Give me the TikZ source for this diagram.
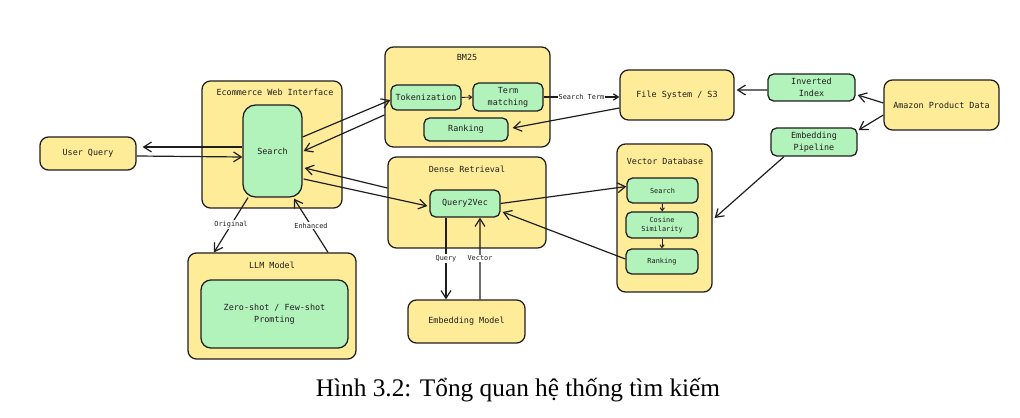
\documentclass[tikz,border=0pt]{standalone}
\usepackage{fontspec}
\setmainfont{Liberation Serif}
\newfontfamily\diafont{DejaVu Sans Mono}
\usetikzlibrary{arrows.meta,calc}
\definecolor{boxyellow}{HTML}{FFEC99}
\definecolor{boxgreen}{HTML}{B2F2BB}
\definecolor{ink}{HTML}{1E1E1E}
\begin{document}
\begin{tikzpicture}[x=0.025cm, y=-0.025cm,
    boxsize/.style 2 args={minimum width=#1*0.025cm, minimum height=#2*0.025cm},
    outer/.style={draw=ink, fill=boxyellow, line width=0.9pt, rounded corners=6pt, inner sep=0pt, align=center},
    inner/.style={draw=ink, fill=boxgreen, line width=0.9pt, rounded corners=4pt, inner sep=0pt, align=center},
    big/.style={font=\diafont\fontsize{6}{8.6}\selectfont, text=ink},
    small/.style={font=\diafont\fontsize{4.9}{6.4}\selectfont, text=ink},
    link/.style={draw=ink, line width=0.85pt, -{Straight Barb[length=5.5pt,width=7pt]}},
    shortlink/.style={draw=ink, line width=0.7pt, -{Straight Barb[length=2pt,width=3pt]}},
    tag/.style={small, fill=white, inner sep=0.8pt}]
    \useasboundingbox (0,0) rectangle (1020,418);
    % outer boxes
    \node[outer, boxsize={96}{33}, big] (uq) at (88,153.5) {User Query};
    \node[outer, boxsize={140}{127}] (web) at (272,144.5) {};
    \node[outer, boxsize={165}{100}] (bm) at (467.5,97) {};
    \node[outer, boxsize={114}{50}, big] (fs) at (677,95) {File System / S3};
    \node[outer, boxsize={115}{50}, big] (amz) at (941.5,105) {Amazon Product Data};
    \node[outer, boxsize={95}{148}] (vdb) at (664.5,218) {};
    \node[outer, boxsize={158}{91}] (dense) at (467,202.5) {};
    \node[outer, boxsize={168}{106}] (llm) at (272,306) {};
    \node[outer, boxsize={117}{43}, big] (em) at (466.5,321.5) {Embedding Model};
    % box titles
    \foreach \p/\x/\y/\lbl in {webtitle/275/92/Ecommerce Web Interface, bmtitle/467/57/BM25,
        densetitle/467/169/Dense Retrieval, vdbtitle/665/161/Vector Database, llmtitle/272/265/LLM Model} {
        \node[big] (\p) at (\x,\y) {\lbl};
    }
    % inner boxes
    \node[inner, rounded corners=9pt, boxsize={59}{92}, big] (search) at (272.5,151) {Search};
    \node[inner, boxsize={70}{25}, big] (tok) at (426,97.5) {Tokenization};
    \node[inner, boxsize={70}{28}, big] (term) at (508,97) {Term\\matching};
    \node[inner, boxsize={84}{23}, big] (rank) at (466,129.5) {Ranking};
    \node[inner, boxsize={87}{27}, big] (inv) at (811.5,87.5) {Inverted\\Index};
    \node[inner, boxsize={86}{28}, big] (emb) at (814,142) {Embedding\\Pipeline};
    \node[inner, boxsize={71}{25}, small] (vs) at (662.5,190.5) {Search};
    \node[inner, boxsize={72}{26}, small] (cos) at (662,225) {Cosine\\Similarity};
    \node[inner, boxsize={72}{25}, small] (vr) at (662,261.5) {Ranking};
    \node[inner, boxsize={70}{27}, big] (q2v) at (465,203.5) {Query2Vec};
    \node[inner, rounded corners=7pt, boxsize={147}{68}, big] (zero) at (274.5,314) {Zero-shot / Few-shot\\Promting};
    % connectors
    \draw[link] ($(search.west)+(0,-4)$) -- ($(uq.east)+(6,-6.5)$);
    \draw[link] ($(uq.east)+(0,2.5)$) -- ($(search.west)+(0,6)$);
    \draw[link] ($(search.east)+(0,-14)$) -- ($(tok.west)+(0,2.5)$);
    \draw[link] ($(bm.west)+(0,18)$) -- ($(search.east)+(1,0)$);
    \draw[shortlink] (tok) -- (term);
    \draw[link, -{Straight Barb[length=3.5pt,width=4.5pt]}] (term.east) -- node[tag] (stlabel) {Search Term} ($(fs.west)+(0,2)$);
    \draw[link] ($(fs.west)+(0,13)$) -- ($(rank.east)+(4,-1.5)$);
    \draw[link] ($(inv.west)+(0,2.5)$) -- ($(fs.east)+(2,-5)$);
    \draw[link] ($(amz.west)+(0,-2)$) -- ($(inv.east)+(2,7.5)$);
    \draw[link] ($(amz.west)+(0,10)$) -- ($(emb.east)+(1,-12)$);
    \draw[link] ($(emb.south)+(-30,0)$) -- ($(vdb.east)+(2,0)$);
    \draw[link] (q2v.east) -- ($(vs.west)+(0,-4)$);
    \draw[link] ($(vr.west)+(0,-2.5)$) -- ($(q2v.east)+(2,8.5)$);
    \draw[link] ($(dense.west)+(0,-14.5)$) -- ($(search.east)+(2,17)$);
    \draw[link] ($(search.east)+(1,28)$) -- ($(q2v.west)+(-2,2.5)$);
    \draw[link] ($(search.south)+(-24.5,0)$) -- node[tag] (origlabel) {Original} ($(llm.north)+(-58,0)$);
    \draw[link] ($(llm.north)+(56,0)$) -- node[tag] (enhlabel) {Enhanced} ($(search.south)+(21.5,1)$);
    \draw[link] ($(q2v.south)+(-19,0)$) -- node[tag] (querylabel) {Query} ($(em.north)+(-20.5,0)$);
    \draw[link] ($(em.north)+(13.5,0)$) -- node[tag] (veclabel) {Vector} ($(q2v.south)+(15,0)$);
    \draw[shortlink] (vs) -- (cos);
    \draw[shortlink] (cos) -- (vr);
    % caption
    \node[font=\fontsize{18}{21}\selectfont] (caption) at (518,390) {Hình 3.2: Tổng quan hệ thống tìm kiếm};
\end{tikzpicture}
\end{document}
